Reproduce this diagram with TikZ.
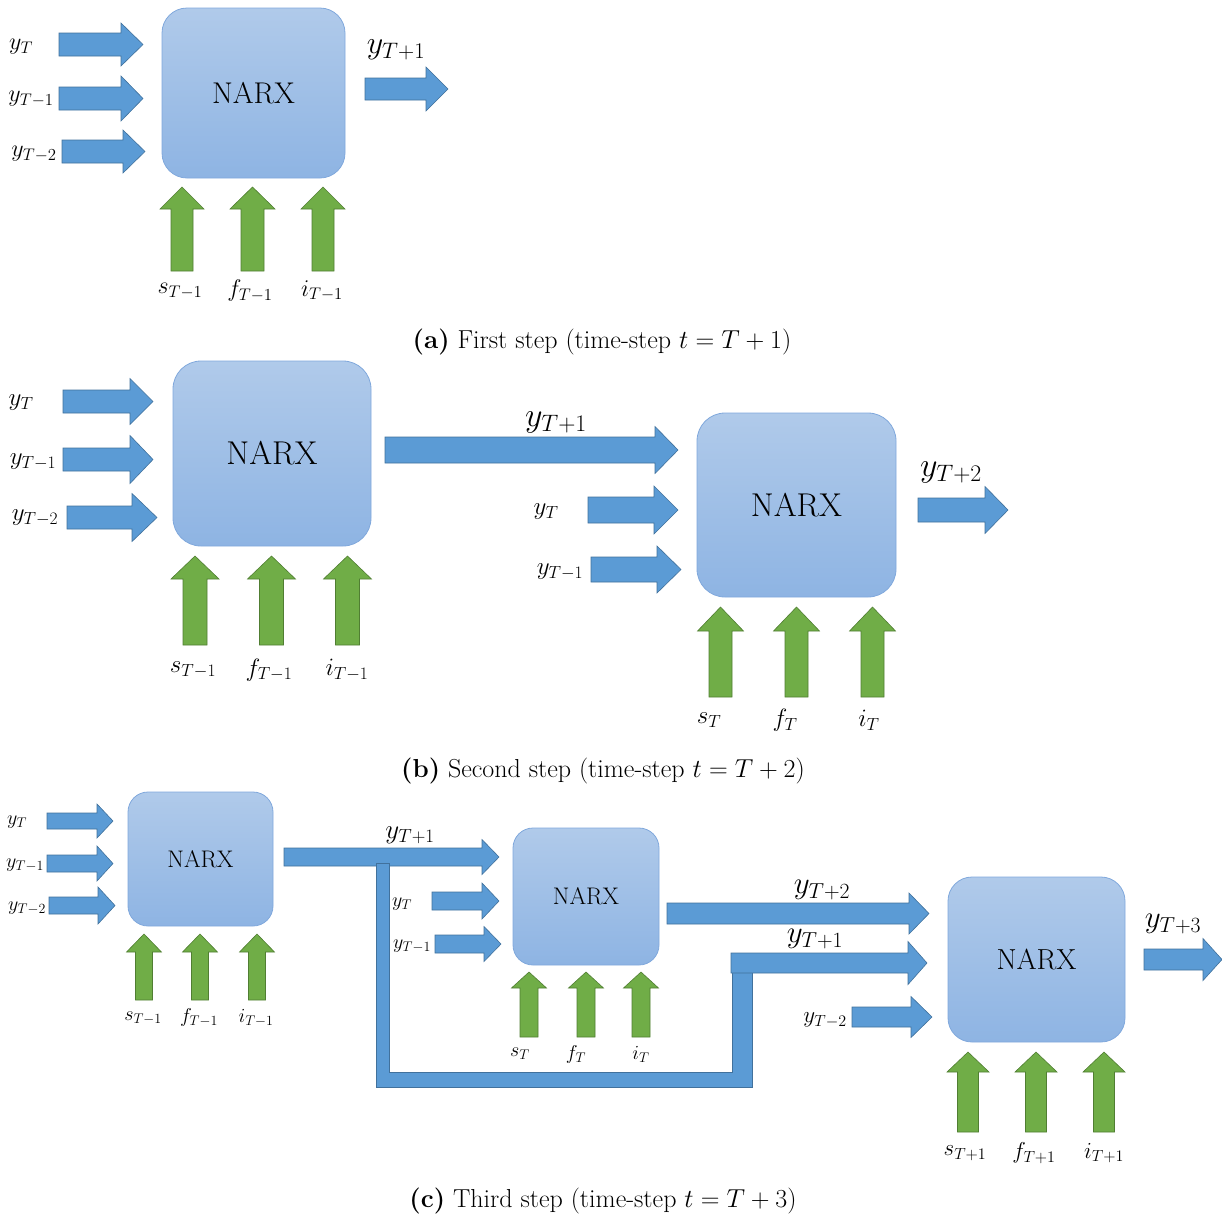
\RequirePackage{fix-cm}
\documentclass[tikz,border=0pt]{standalone}
\definecolor{arrblue}{RGB}{91,155,213}
\definecolor{arrblueline}{RGB}{65,113,156}
\definecolor{arrgreen}{RGB}{112,173,71}
\definecolor{arrgreenline}{RGB}{80,126,50}
\definecolor{boxtop}{RGB}{176,202,234}
\definecolor{boxbot}{RGB}{142,180,227}
\definecolor{boxline}{RGB}{128,168,220}
\newcommand{\setsz}[1]{\fontsize{#1}{#1}\selectfont}
% right-pointing block arrow: tail x, tip x, mid y, half shaft, half head, head length
\newcommand{\blockR}[6]{%
  \filldraw[blue arrow] (#1,#3-#4) -- (#2-#6,#3-#4) -- (#2-#6,#3-#5) -- (#2,#3)
    -- (#2-#6,#3+#5) -- (#2-#6,#3+#4) -- (#1,#3+#4) -- cycle;}
% upward block arrow: mid x, bottom y, tip y, half shaft, half head, head length
\newcommand{\blockU}[6]{%
  \filldraw[green arrow] (#1-#4,#2) -- (#1-#4,#3+#6) -- (#1-#5,#3+#6) -- (#1,#3)
    -- (#1+#5,#3+#6) -- (#1+#4,#3+#6) -- (#1+#4,#2) -- cycle;}
\tikzset{
  blue arrow/.style={fill=arrblue, draw=arrblueline, line width=0.6pt, line join=miter},
  green arrow/.style={fill=arrgreen, draw=arrgreenline, line width=0.6pt, line join=miter},
  narx/.style={draw=boxline, line width=0.8pt, top color=boxtop, bottom color=boxbot,
    rectangle, inner sep=0pt, font=\setsz{#1}},
  lbl/.style={inner sep=0pt, font=\setsz{#1}},
  caption/.style={inner sep=0pt, font=\setsz{26}},
}
\begin{document}
\begin{tikzpicture}[x=1pt,y=-1pt]
\useasboundingbox (0,0) rectangle (1222,1216);

% ---------------- (a) first step ----------------
\node[narx=30, minimum width=183pt, minimum height=170pt, rounded corners=25pt] (boxA) at (253.5,93) {NARX};
\blockR{59}{143}{44.5}{11.5}{21.5}{22}
\blockR{59}{143}{98.5}{11.5}{22.5}{22}
\blockR{62}{145}{151.5}{11.5}{21.5}{22}
\blockR{365}{448}{89}{11}{22}{22}
\blockU{182}{271}{187}{11}{22}{22}
\blockU{252.5}{271}{187}{11.5}{22.5}{22}
\blockU{323}{271}{187}{11}{22}{22}
\node[lbl=24] (aY0) at (21,47) {$y_T$};
\node[lbl=24] (aY1) at (31,99) {$y_{T-1}$};
\node[lbl=24] (aY2) at (34,154) {$y_{T-2}$};
\node[lbl=32] (aOut) at (396,50) {$y_{T+1}$};
\node[lbl=24] (aS) at (180,291) {$s_{T-1}$};
\node[lbl=24] (aF) at (250,291) {$f_{T-1}$};
\node[lbl=24] (aI) at (322,291) {$i_{T-1}$};
\node[caption] (capA) at (602,342) {\textbf{(a)} First step (time-step $t=T+1$)};

% ---------------- (b) second step ----------------
\node[narx=33, minimum width=198pt, minimum height=185pt, rounded corners=28pt] (boxB1) at (272,453.5) {NARX};
\node[narx=33, minimum width=199pt, minimum height=184pt, rounded corners=28pt] (boxB2) at (796.5,505) {NARX};
\blockR{63}{153}{401.5}{11.5}{23}{23}
\blockR{63}{153}{459.5}{11.5}{24}{23}
\blockR{67}{157}{517.5}{11.5}{24}{25}
\blockR{385}{678}{450}{13}{23.5}{23}
\blockR{588}{678}{510}{13}{24}{24}
\blockR{591}{681}{569.5}{12.5}{23.5}{24}
\blockR{918}{1008}{510}{12}{23.5}{23}
\blockU{195}{645}{556}{12}{24}{23}
\blockU{271.5}{645}{556}{12}{24}{23}
\blockU{347.5}{645}{556}{12}{24}{23}
\blockU{720.5}{697}{607}{11.5}{23}{24}
\blockU{796.5}{697}{607}{11.5}{23}{24}
\blockU{872.5}{697}{607}{11.5}{23}{24}
\node[lbl=25] (bY0) at (21,403) {$y_T$};
\node[lbl=25] (bY1) at (33,462) {$y_{T-1}$};
\node[lbl=25] (bY2) at (35,518) {$y_{T-2}$};
\node[lbl=34] (bMid) at (556,422) {$y_{T+1}$};
\node[lbl=25] (bY0b) at (546,512) {$y_T$};
\node[lbl=25] (bY1b) at (560,572) {$y_{T-1}$};
\node[lbl=34] (bOut) at (951,472) {$y_{T+2}$};
\node[lbl=25] (bS1) at (193,670) {$s_{T-1}$};
\node[lbl=25] (bF1) at (269,670) {$f_{T-1}$};
\node[lbl=25] (bI1) at (347,670) {$i_{T-1}$};
\node[lbl=25] (bS2) at (709,720) {$s_T$};
\node[lbl=25] (bF2) at (785,720) {$f_T$};
\node[lbl=25] (bI2) at (869,720) {$i_T$};
\node[caption] (capB) at (603,771) {\textbf{(b)} Second step (time-step $t=T+2$)};

% ---------------- (c) third step ----------------
\node[narx=24, minimum width=145pt, minimum height=134pt, rounded corners=20pt] (boxC1) at (200.5,859) {NARX};
\node[narx=24, minimum width=146pt, minimum height=137pt, rounded corners=20pt] (boxC2) at (586,896.5) {NARX};
\node[narx=29, minimum width=177pt, minimum height=165pt, rounded corners=24pt] (boxC3) at (1036.5,959.5) {NARX};
% inputs of the first block
\blockR{47}{113}{821}{8}{17}{16}
\blockR{47}{113}{863.5}{8.5}{17.5}{16}
\blockR{49}{115}{905.5}{8.5}{18.5}{17}
\blockU{144}{1000}{934}{8.5}{17.5}{18}
\blockU{200}{1000}{934}{8.5}{17.5}{18}
\blockU{257}{1000}{934}{8.5}{17.5}{18}
% output of the first block, fed forward
\blockR{284}{499}{857}{9}{17.5}{17}
% bent feed of y_{T+1} to the third block
\filldraw[blue arrow] (376,863) -- (376,1087) -- (752,1087) -- (752,962) -- (732,962)
  -- (732,1072) -- (389,1072) -- (389,863) -- cycle;
\blockR{731}{927}{963}{10}{21.5}{19}
% inputs of the second block
\blockR{432}{499}{901}{9}{18}{17}
\blockR{435}{501}{944}{9}{17.5}{17}
\blockU{529}{1037}{972}{9}{17.5}{16}
\blockU{586}{1037}{972}{9}{17.5}{16}
\blockU{641}{1037}{972}{9}{17.5}{16}
% output of the second block and the remaining inputs of the third
\blockR{667}{929}{913.5}{10.5}{20.5}{20}
\blockR{852}{932}{1017}{10}{20.5}{21}
\blockR{1144}{1222}{959.5}{10.5}{21}{19}
\blockU{968}{1132}{1052}{10.5}{21}{20}
\blockU{1036}{1132}{1052}{10.5}{21}{20}
\blockU{1104}{1132}{1052}{10.5}{21}{20}
\node[lbl=20] (cY0) at (17,822) {$y_T$};
\node[lbl=20] (cY1) at (25,865) {$y_{T-1}$};
\node[lbl=20] (cY2) at (27,908) {$y_{T-2}$};
\node[lbl=20] (cS1) at (143,1018) {$s_{T-1}$};
\node[lbl=20] (cF1) at (199,1018) {$f_{T-1}$};
\node[lbl=20] (cI1) at (256,1018) {$i_{T-1}$};
\node[lbl=27] (cMid1) at (410,835) {$y_{T+1}$};
\node[lbl=20] (cY0b) at (402,904) {$y_T$};
\node[lbl=20] (cY1b) at (412,946) {$y_{T-1}$};
\node[lbl=20] (cS2) at (520,1054) {$s_T$};
\node[lbl=20] (cF2) at (576,1054) {$f_T$};
\node[lbl=20] (cI2) at (641,1054) {$i_T$};
\node[lbl=31] (cMid2) at (822,890) {$y_{T+2}$};
\node[lbl=31] (cMid3) at (815,939) {$y_{T+1}$};
\node[lbl=23] (cY2b) at (825,1020) {$y_{T-2}$};
\node[lbl=31] (cOut) at (1173,924) {$y_{T+3}$};
\node[lbl=23] (cS3) at (965,1153) {$s_{T+1}$};
\node[lbl=23] (cF3) at (1034,1153) {$f_{T+1}$};
\node[lbl=23] (cI3) at (1104,1153) {$i_{T+1}$};
\node[caption] (capC) at (603,1201) {\textbf{(c)} Third step (time-step $t=T+3$)};
\end{tikzpicture}
\end{document}
